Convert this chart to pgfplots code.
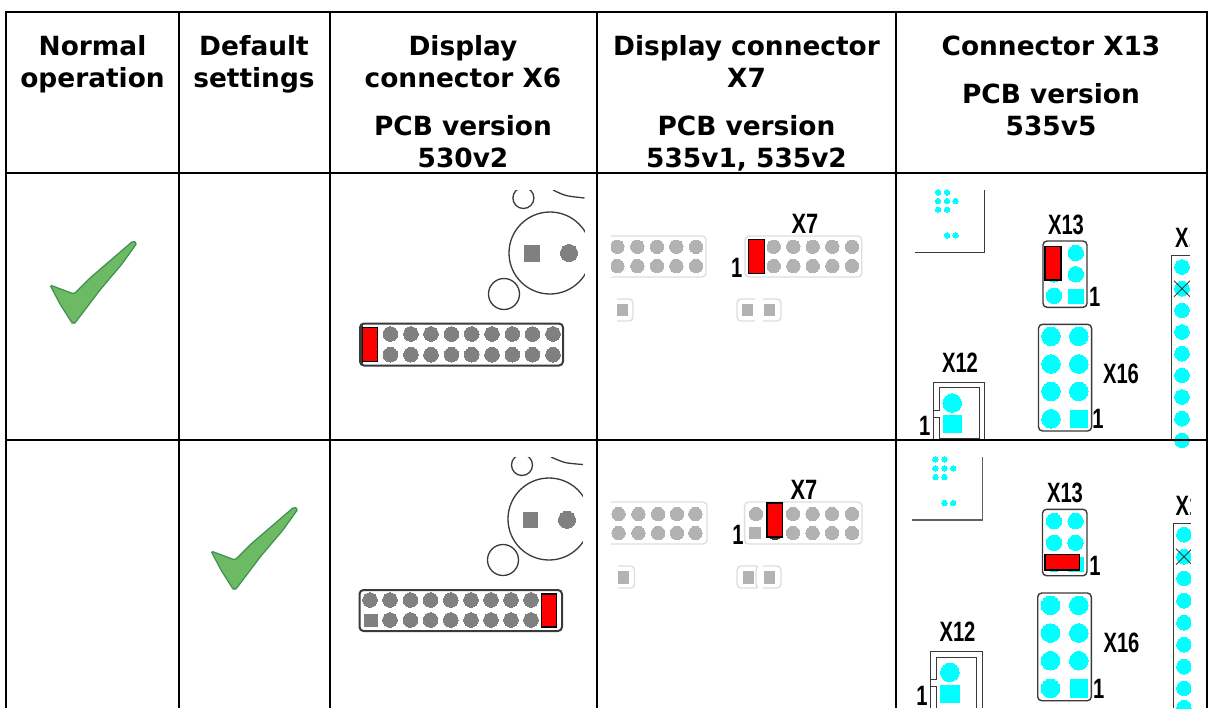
\documentclass[border=0pt]{standalone}
\usepackage{pgfplots}
\pgfplotsset{compat=1.18}
\usepackage{fontspec}
\setmainfont{Liberation Sans}
\newfontfamily\hdf{DejaVu Sans}[BoldFont={DejaVu Sans Bold}]
\definecolor{cy}{HTML}{00FFFF}
\definecolor{gd}{HTML}{808080}
\definecolor{gl}{HTML}{B2B2B2}
\definecolor{ol}{HTML}{DEDEDE}
\definecolor{red1}{HTML}{FF0000}
\definecolor{lnk}{HTML}{3A3A3A}
\definecolor{chkf}{HTML}{6CBB64}
\definecolor{chkd}{HTML}{3F8F52}
% x1 y1 x2 y2 fill draw width
\newcommand\rct[7]{\addplot[fill=#5,draw=#6,line width=#7] coordinates {(#1,#2)(#3,#2)(#3,#4)(#1,#4)} -- cycle;}
\newcommand\bx[5]{\addplot[fill=none,draw=#5,line width=0.7pt,rounded corners=2pt] coordinates {(#1,#2)(#3,#2)(#3,#4)(#1,#4)} -- cycle;}
\newcommand\bxt[5]{\addplot[fill=none,draw=#5,line width=1pt,rounded corners=2pt] coordinates {(#1,#2)(#3,#2)(#3,#4)(#1,#4)} -- cycle;}
\newcommand\dts[3]{\addplot[only marks,color=#1,mark=*,mark size=#2,mark options={draw=#1,fill=#1,line width=0pt}] coordinates {#3};}
\newcommand\rng[4]{\addplot[only marks,color=lnk,mark=o,mark size=#2,mark options={draw=lnk,line width=0.65pt,fill=none}] coordinates {(#3,#4)};}
\newcommand\pth[2]{\addplot[#1] coordinates {#2};}
\newcommand\hd[3]{\node[anchor=base,inner sep=0pt,font=\hdf\bfseries\fontsize{13.2}{16}\selectfont] at (axis cs:#1,#2) {#3};}
\newcommand\thinlab[4]{\node[anchor=base,inner sep=0pt,xscale=#3,font=\bfseries\fontsize{14}{16}\selectfont,text=black] at (axis cs:#1,#2) {#4};}
\begin{document}
\begin{tikzpicture}
\path[use as bounding box] (0,0) rectangle (605.5pt,354pt);
\begin{axis}[
  at={(0,0)},anchor=south west,
  width=605.5pt,height=354pt,scale only axis,
  xmin=0,xmax=1211,ymin=0,ymax=708,y dir=reverse,
  hide axis,clip=false,clip marker paths=true]
\rct{0}{0}{1211}{708}{white}{none}{0pt}
% ---- check marks
\addplot[fill=chkf,draw=chkd,line width=0.6pt,rounded corners=0.8pt] coordinates {(50,285)(74,294)(90,278)(133,241)(137,243)(122,264)(100,290)(75,323)(72,323)(60,304)} -- cycle;
\addplot[fill=chkf,draw=chkd,line width=0.6pt,rounded corners=0.8pt] coordinates {(211,551)(235,560)(251,544)(294,507)(298,509)(283,530)(261,556)(236,589)(233,589)(221,570)} -- cycle;
% ---- X6 row 1
\rng{}{20.5}{550}{253}
\rng{}{7.75}{504}{294}
\rng{}{5.25}{523.4}{198}
\pth{smooth,draw=lnk,line width=0.65pt}{(553,190)(566,195.5)(584.5,198)}
\rct{584.5}{176}{596}{439}{white}{none}{0pt}
\rct{500}{176}{596}{190}{white}{none}{0pt}
\rct{524}{245}{540}{262}{gd}{none}{0pt}
\dts{gd}{4.25}{(569,253)}
\bxt{360}{323.5}{563}{365.5}{lnk}
\rct{360}{325}{363}{364}{lnk}{none}{0pt}
\dts{gd}{3.65}{(390.4,334)(410.9,334)(431,334)(451.5,334)(471.7,334)(492,334)(512.3,334)(532.5,334)(553,334)
(390.4,354.7)(410.9,354.7)(431,354.7)(451.5,354.7)(471.7,354.7)(492,354.7)(512.3,354.7)(532.5,354.7)(553,354.7)}
\rct{362.5}{327.5}{377.6}{361.4}{red1}{black}{0.75pt}
% ---- X6 row 2
\rng{}{20.5}{549}{519}
\rng{}{7.75}{503}{560}
\rng{}{5.25}{522}{465}
\pth{smooth,draw=lnk,line width=0.65pt}{(551,457)(565,462.5)(583,464.5)}
\rct{583}{442}{596}{708}{white}{none}{0pt}
\rct{500}{442}{596}{457}{white}{none}{0pt}
\rct{522.6}{512}{538}{528}{gd}{none}{0pt}
\dts{gd}{4.25}{(567,519.7)}
\bxt{359.5}{590}{562}{631}{lnk}
\dts{gd}{3.65}{(370,600)(390,600)(410.4,600)(430.6,600)(450.8,600)(471,600)(491,600)(511,600)(531,600)
(390,620)(410.4,620)(430.6,620)(450.8,620)(471,620)(491,620)(511,620)(531,620)}
\rct{364}{614}{377.5}{627}{gd}{none}{0pt}
\rct{541.4}{594}{556.6}{627}{red1}{black}{0.75pt}
% ---- X7 row 1
\bx{604}{236}{706}{277}{ol}
\dts{gl}{3.35}{(617.3,246.7)(637.3,246.7)(657,246.7)(676.3,246.7)(696,246.7)(617.3,266)(637.3,266)(657,266)(676.3,266)(696,266)}
\bx{745}{236}{861.7}{277}{ol}
\dts{gl}{3.35}{(773.7,246.7)(793.3,246.7)(812.7,246.7)(832.3,246.7)(852,246.7)(773.7,266)(793.3,266)(812.7,266)(832.3,266)(852,266)}
\rct{748.3}{239.7}{764.3}{273.7}{red1}{black}{0.75pt}
\bx{606}{299}{633}{321}{ol}
\rct{617}{304}{628}{316}{gl}{none}{0pt}
\bx{737}{299}{760}{321}{ol}
\bx{756}{299}{781}{321}{ol}
\rct{755}{297}{763}{323}{white}{none}{0pt}
\rct{742}{304}{753}{316}{gl}{none}{0pt}
\rct{764}{304}{775}{316}{gl}{none}{0pt}
\rct{600}{294}{617}{326}{white}{none}{0pt}
\rct{600}{232}{611}{281}{white}{none}{0pt}
% ---- X7 row 2
\bx{604}{502}{707}{544}{ol}
\dts{gl}{3.35}{(618.6,514)(638.4,514)(658.2,514)(677,514)(695.4,514)(618.6,533)(638.4,533)(658.2,533)(677,533)(695.4,533)}
\bx{744.6}{502}{862}{544}{ol}
\dts{gl}{3.35}{(756,514)(793,514)(812.5,514)(832,514)(852,514)(793,533)(812.5,533)(832,533)(852,533)}
\dts{lnk}{3.35}{(775,533)}
\rct{749}{527}{761}{539}{gl}{none}{0pt}
\rct{767}{503}{782.5}{537}{red1}{black}{0.75pt}
\bx{606}{566}{634.5}{588}{ol}
\rct{618}{571}{628.5}{584}{gl}{none}{0pt}
\bx{737}{566}{760}{588}{ol}
\bx{756}{566}{781}{588}{ol}
\rct{758}{564}{763}{590}{white}{none}{0pt}
\rct{742.5}{571}{754}{584}{gl}{none}{0pt}
\rct{764}{571}{775}{584}{gl}{none}{0pt}
\rct{600}{560}{618}{592}{white}{none}{0pt}
\rct{600}{498}{611}{548}{white}{none}{0pt}
% ---- X13 row 1
\dts{cy}{1.35}{(938,192.3)(947,192.3)(938,201)(947,201)(955.6,201)(938,209.7)(947,209.7)(947,235.3)(955.6,235.3)}
\pth{draw=lnk,line width=0.5pt}{(915,252)(984,252)(984,190)}
\bx{1043}{241}{1087}{307.3}{lnk}
\dts{cy}{3.85}{(1075.8,253)(1075.8,274.3)(1054,295.7)(1054,274.3)}
\rct{1067.7}{289}{1084}{304}{cy}{none}{0pt}
\rct{1045}{246.7}{1061}{280}{red1}{black}{0.75pt}
\bx{1038.5}{324.3}{1091.6}{431}{lnk}
\dts{cy}{4.65}{(1051,336.3)(1078.8,336.3)(1051,364)(1078.8,364)(1051,391.3)(1078.8,391.3)(1051,418.7)}
\rct{1069.7}{409.7}{1088}{428.3}{cy}{none}{0pt}
\pth{draw=lnk,line width=0.5pt}{(933.7,439)(933.7,382.3)(984,382.3)(984,439)}
\pth{draw=lnk,line width=0.5pt}{(933.7,410)(939,410)(939,387.7)(979,387.7)(979,438.3)(939,438.3)(939,417.3)(933.7,417.3)}
\dts{cy}{4.65}{(952.2,403)}
\rct{942.8}{415}{961.7}{433.3}{cy}{none}{0pt}
\pth{draw=lnk,line width=0.5pt}{(1171.4,439)(1171.4,255.7)(1191,255.7)}
\dts{cy}{3.65}{(1182,267)(1182,288.7)(1182,310.3)(1182,332)(1182,353.7)(1182,375.3)(1182,397)(1182,418.7)(1182,440.3)}
\pth{draw=lnk,line width=0.4pt}{(1174,280.7)(1190,296.7)}
\pth{draw=lnk,line width=0.4pt}{(1174,296.7)(1190,280.7)}
\thinlab{1066}{234}{0.72}{X13}
\thinlab{960}{372.5}{0.72}{X12}
\thinlab{1121}{383}{0.72}{X16}
\thinlab{1094.7}{306.7}{0.72}{1}
\thinlab{1098}{428}{0.72}{1}
\thinlab{924.6}{435.7}{0.72}{1}
\thinlab{1187.5}{247}{0.72}{X1}
\thinlab{805}{233}{0.78}{X7}
\thinlab{736.7}{277.5}{0.72}{1}
% ---- X13 row 2
\dts{cy}{1.35}{(935.4,459.3)(944.5,459.3)(935.4,468.3)(944.5,468.3)(953.2,468.3)(935.4,477)(944.5,477)(944.5,503)(953.2,503)}
\pth{draw=lnk!80,line width=0.7pt}{(912,520)(982.5,520)(982.5,457.3)}
\bx{1042.5}{509.3}{1087}{575.7}{lnk}
\dts{cy}{3.85}{(1054,521)(1075.5,521)(1054,542.7)(1075.5,542.7)(1054,564)}
\rct{1067.7}{556.7}{1084}{572.3}{cy}{none}{0pt}
\rct{1045}{554.3}{1079.5}{570}{red1}{black}{0.75pt}
\bx{1037.7}{593}{1091.3}{700.7}{lnk}
\dts{cy}{4.65}{(1050.5,605.3)(1078.8,605.3)(1050.5,633)(1078.8,633)(1050.5,660.7)(1078.8,660.7)(1050.5,688.3)}
\rct{1069.7}{679.3}{1088}{698.3}{cy}{none}{0pt}
\pth{draw=lnk,line width=0.5pt}{(930.7,708)(930.7,651.7)(982.5,651.7)(982.5,708)}
\pth{draw=lnk,line width=0.5pt}{(930.7,679.3)(936.7,679.3)(936.7,657.3)(976.8,657.3)(976.8,708)}
\pth{draw=lnk,line width=0.5pt}{(930.7,686.7)(936.7,686.7)(936.7,708)}
\dts{cy}{4.65}{(949.9,672.3)}
\rct{940.4}{685}{960}{703.3}{cy}{none}{0pt}
\pth{draw=lnk,line width=0.5pt}{(1173,708)(1173,523.3)(1193,523.3)}
\dts{cy}{3.65}{(1184,534.7)(1184,556.7)(1184,578.3)(1184,600.7)(1184,622.7)(1184,644.7)(1184,666.7)(1184,688.3)(1184,707.7)}
\pth{draw=lnk,line width=0.4pt}{(1176,548.7)(1192,564.7)}
\pth{draw=lnk,line width=0.4pt}{(1176,564.7)(1192,548.7)}
\thinlab{1065}{502}{0.72}{X13}
\thinlab{957.5}{641.5}{0.72}{X12}
\thinlab{1121.5}{652.5}{0.72}{X16}
\thinlab{1095}{575}{0.72}{1}
\thinlab{1098.7}{698}{0.72}{1}
\thinlab{922}{705}{0.72}{1}
\thinlab{1188}{515}{0.72}{X1}
\thinlab{804}{499}{0.78}{X7}
\thinlab{738}{544}{0.72}{1}
% right-hand cut of the last column
\rct{1190}{175}{1206}{439}{white}{none}{0pt}
\rct{1191}{442}{1206}{708}{white}{none}{0pt}
% ---- grid
\pth{draw=black,line width=1.15pt}{(5,12)(1208,12)}
\pth{draw=black,line width=1.15pt}{(6,173)(1207,173)}
\pth{draw=black,line width=1.15pt}{(6,440)(1207,440)}
\pth{draw=black,line width=1.15pt}{(6,12)(6,708)}
\pth{draw=black,line width=1.15pt}{(179,12)(179,708)}
\pth{draw=black,line width=1.15pt}{(330,12)(330,708)}
\pth{draw=black,line width=1.15pt}{(597,12)(597,708)}
\pth{draw=black,line width=1.15pt}{(896,12)(896,708)}
\pth{draw=black,line width=1.15pt}{(1207,12)(1207,708)}
% ---- header
\hd{92.5}{55}{Normal}
\hd{92.5}{87}{operation}
\hd{254}{55}{Default}
\hd{254}{87}{settings}
\hd{463}{55}{Display}
\hd{463}{87}{connector X6}
\hd{463}{135}{PCB version}
\hd{463}{167}{530v2}
\hd{746.5}{55}{Display connector}
\hd{746.5}{87}{X7}
\hd{746.5}{135}{PCB version}
\hd{746.5}{167}{535v1, 535v2}
\hd{1051}{55}{Connector X13}
\hd{1051}{103}{PCB version}
\hd{1051}{135}{535v5}
\end{axis}
\end{tikzpicture}
\end{document}
